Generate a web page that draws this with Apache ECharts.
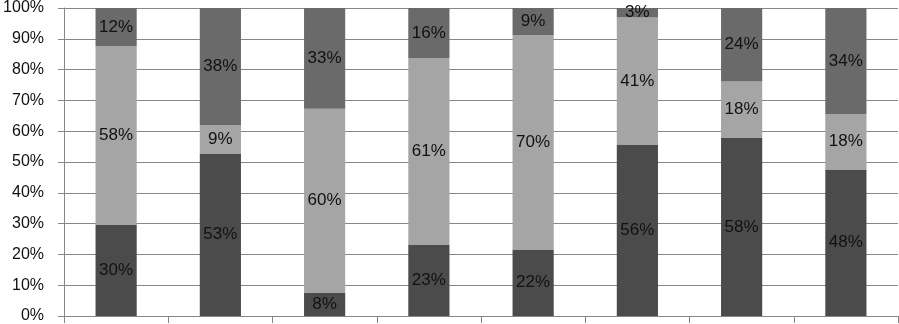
<!DOCTYPE html>
<html><head><meta charset="utf-8">
<script src="https://cdn.jsdelivr.net/npm/echarts@6/dist/echarts.min.js"></script>
<style>html,body{margin:0;padding:0;background:#fff}#c{width:899px;height:324px}</style>
</head><body><div id="c"></div>
<script>
const categories = ['1','2','3','4','5','6','7','8'];
const seriesBottom = [29.7, 52.8, 7.6, 23.2, 21.6, 55.7, 57.8, 47.6];
const seriesMiddle = [57.9, 9.1, 59.7, 60.6, 69.6, 41.2, 18.3, 18.0];
const seriesTop = [12.4, 38.1, 32.7, 16.2, 8.8, 3.1, 23.9, 34.4];
const yTicks = [0,10,20,30,40,50,60,70,80,90,100];

const font = 'Liberation Sans';
const lbl = {show:true, position:'inside', color:'#111', fontSize:17, fontFamily:font,
  formatter: p => Math.round(p.value) + '%'};
function mk(name, data, color){
  return {name, type:'bar', stack:'s', data, barWidth:'39.5%', itemStyle:{color}, label:lbl};
}
const chart = echarts.init(document.getElementById('c'));
chart.setOption({
  animation:false,
  grid:{left:64, right:1, top:7, bottom:7, containLabel:false},
  xAxis:{type:'category', data:categories,
    axisLine:{lineStyle:{color:'#878787', width:1}},
    axisTick:{show:true, length:7, lineStyle:{color:'#878787'}},
    axisLabel:{show:false}},
  yAxis:{type:'value', min:0, max:100, interval:10,
    axisLine:{show:true, lineStyle:{color:'#878787'}},
    axisTick:{show:true, inside:false, length:6, lineStyle:{color:'#878787'}},
    splitLine:{lineStyle:{color:'#878787', width:1}},
    axisLabel:{margin:20, color:'#111', fontSize:16, fontFamily:font,
      formatter: v => yTicks.includes(v) ? v + '%' : ''}},
  series:[
    mk('bottom', seriesBottom, '#4b4b4b'),
    mk('middle', seriesMiddle, '#a5a5a5'),
    mk('top', seriesTop, '#6a6a6a')
  ]
});
</script></body></html>
